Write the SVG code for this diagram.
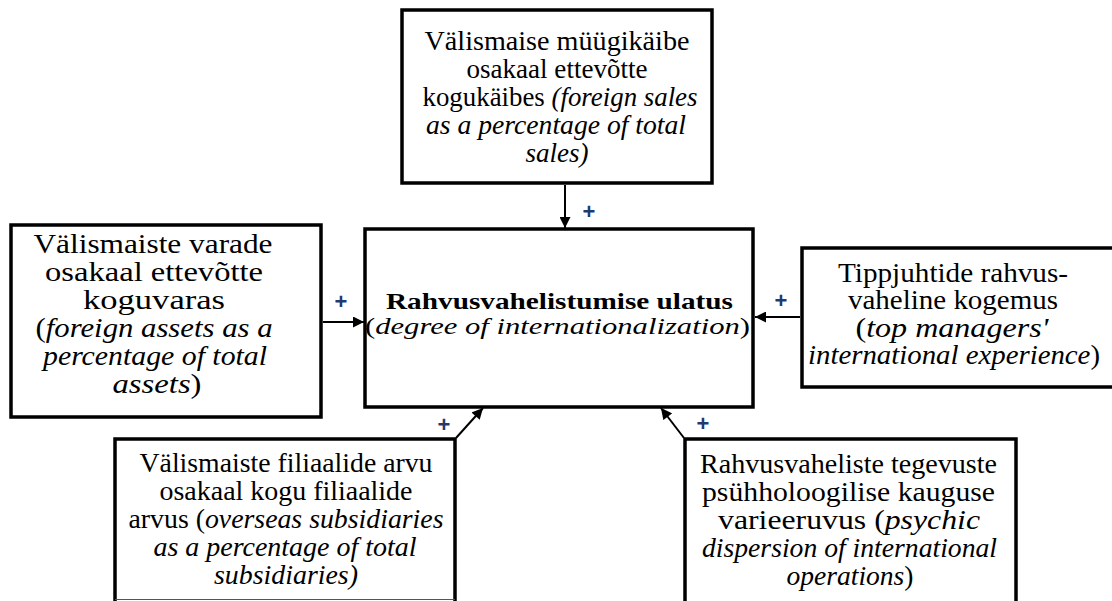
<svg xmlns="http://www.w3.org/2000/svg" width="1112" height="601" viewBox="0 0 1112 601">
<defs>
<marker id="ah" viewBox="0 0 10 10" refX="10" refY="5" markerWidth="6" markerHeight="5.5" orient="auto" markerUnits="strokeWidth">
<path d="M0,0 L10,5 L0,10 Z" fill="#000"/>
</marker>
<style>
.box{fill:#fff;stroke:#000;stroke-width:3.5}
.t{font-family:'Liberation Serif','Times New Roman',Tinos,'DejaVu Serif',serif;font-size:28px;fill:#000;text-anchor:middle}
.i{font-style:italic}
.b{font-weight:bold}
.c{font-size:23.5px}
.con{stroke:#000;stroke-width:2;fill:none;marker-end:url(#ah)}
.plus{font-family:'Liberation Sans',Arial,sans-serif;font-size:22px;font-weight:bold;fill:#1f3a6e;text-anchor:middle}
</style>
</defs>
<rect width="1112" height="601" fill="#fff"/>

<g id="top">
<rect class="box" x="402" y="10" width="310" height="173"/>
<text class="t" x="557" y="50" textLength="265" lengthAdjust="spacingAndGlyphs">Välismaise müügikäibe</text>
<text class="t" x="557" y="78" textLength="181" lengthAdjust="spacingAndGlyphs">osakaal ettevõtte</text>
<text class="t" x="560" y="106" textLength="275" lengthAdjust="spacingAndGlyphs">kogukäibes <tspan class="i">(foreign sales</tspan></text>
<text class="t i" x="556" y="134" textLength="260" lengthAdjust="spacingAndGlyphs">as a percentage of total</text>
<text class="t i" x="557" y="162" textLength="63" lengthAdjust="spacingAndGlyphs">sales)</text>
</g>

<g id="left">
<rect class="box" x="11" y="225" width="310" height="192"/>
<text class="t" x="153" y="253" textLength="239" lengthAdjust="spacingAndGlyphs">Välismaiste varade</text>
<text class="t" x="154" y="281" textLength="218" lengthAdjust="spacingAndGlyphs">osakaal ettevõtte</text>
<text class="t" x="154" y="309" textLength="142" lengthAdjust="spacingAndGlyphs">koguvaras</text>
<text class="t" x="154" y="337" textLength="237" lengthAdjust="spacingAndGlyphs">(<tspan class="i">foreign assets as a</tspan></text>
<text class="t i" x="155" y="365" textLength="224" lengthAdjust="spacingAndGlyphs">percentage of total</text>
<text class="t" x="157" y="393" textLength="89" lengthAdjust="spacingAndGlyphs"><tspan class="i">assets</tspan>)</text>
</g>

<g id="center">
<rect class="box" x="365" y="229" width="388" height="178"/>
<text class="t b c" x="559.5" y="309" textLength="347" lengthAdjust="spacingAndGlyphs">Rahvusvahelistumise ulatus</text>
<text class="t c" x="557.5" y="334" textLength="385" lengthAdjust="spacingAndGlyphs">(<tspan class="i">degree of internationalization</tspan>)</text>
</g>

<g id="right">
<rect class="box" x="802" y="248" width="312" height="139"/>
<text class="t" x="953" y="282" textLength="230" lengthAdjust="spacingAndGlyphs">Tippjuhtide rahvus-</text>
<text class="t" x="953" y="309" textLength="210" lengthAdjust="spacingAndGlyphs">vaheline kogemus</text>
<text class="t" x="952" y="337" textLength="193" lengthAdjust="spacingAndGlyphs">(<tspan class="i">top managers'</tspan></text>
<text class="t" x="954" y="364" textLength="292" lengthAdjust="spacingAndGlyphs"><tspan class="i">international experience</tspan>)</text>
</g>

<g id="bottomleft">
<path d="M115,602 V439 H455 V602" fill="#fff" stroke="#000" stroke-width="3.5"/>
<line x1="115" y1="599.5" x2="455" y2="599.5" stroke="#555" stroke-width="1"/>
<text class="t" x="286" y="472" textLength="293" lengthAdjust="spacingAndGlyphs">Välismaiste filiaalide arvu</text>
<text class="t" x="286" y="500" textLength="253" lengthAdjust="spacingAndGlyphs">osakaal kogu filiaalide</text>
<text class="t" x="286" y="528" textLength="315" lengthAdjust="spacingAndGlyphs">arvus (<tspan class="i">overseas subsidiaries</tspan></text>
<text class="t i" x="285" y="556" textLength="263" lengthAdjust="spacingAndGlyphs">as a percentage of total</text>
<text class="t i" x="286" y="584" textLength="144" lengthAdjust="spacingAndGlyphs">subsidiaries)</text>
</g>

<g id="bottomright">
<path d="M685,603 V439 H1016 V603" fill="#fff" stroke="#000" stroke-width="3.5"/>
<text class="t" x="848.5" y="473" textLength="297" lengthAdjust="spacingAndGlyphs">Rahvusvaheliste tegevuste</text>
<text class="t" x="848.5" y="501" textLength="293" lengthAdjust="spacingAndGlyphs">psühholoogilise kauguse</text>
<text class="t" x="849" y="529" textLength="262" lengthAdjust="spacingAndGlyphs">varieeruvus (<tspan class="i">psychic</tspan></text>
<text class="t i" x="849.5" y="557" textLength="295" lengthAdjust="spacingAndGlyphs">dispersion of international</text>
<text class="t" x="850" y="585" textLength="127" lengthAdjust="spacingAndGlyphs"><tspan class="i">operations</tspan>)</text>
</g>

<g id="connectors">
<line class="con" x1="565" y1="185" x2="565" y2="228"/>
<line class="con" x1="323" y1="322" x2="364" y2="322"/>
<line class="con" x1="800" y1="317" x2="755" y2="317"/>
<line class="con" x1="456" y1="438" x2="483" y2="408"/>
<line class="con" x1="684" y1="438" x2="661" y2="408"/>
<text class="plus" x="589" y="219">+</text>
<text class="plus" x="341" y="309">+</text>
<text class="plus" x="781" y="308">+</text>
<text class="plus" x="444" y="432">+</text>
<text class="plus" x="703" y="431">+</text>
</g>
</svg>
